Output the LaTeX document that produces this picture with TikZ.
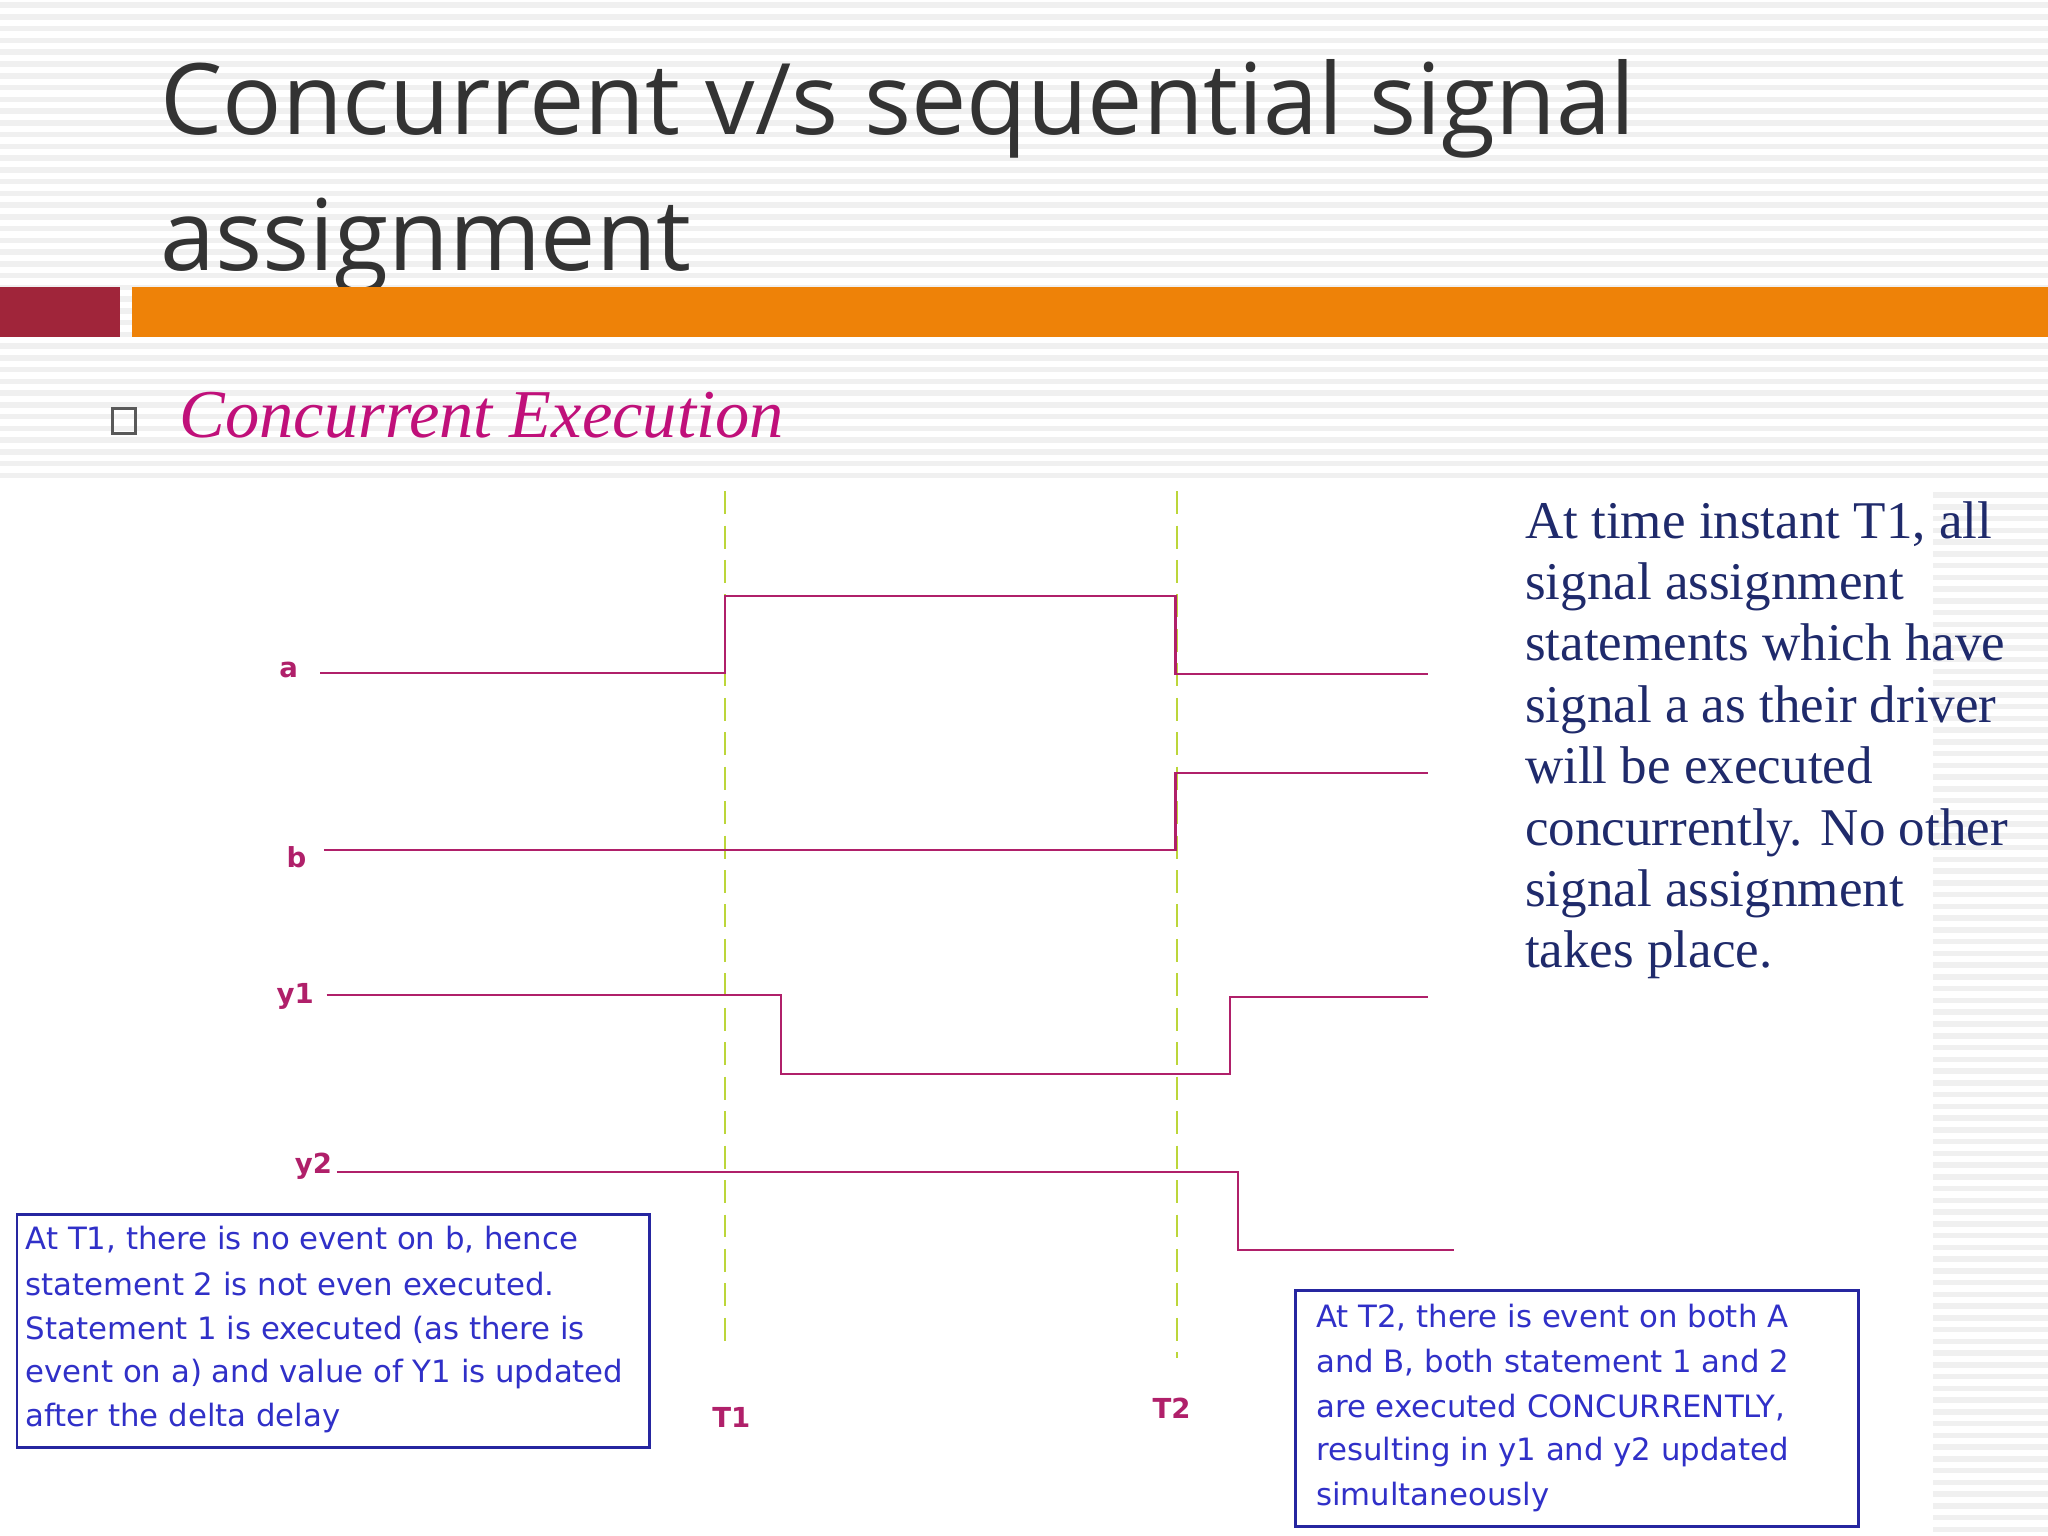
\documentclass[tikz,border=0pt]{standalone}
\usepackage{fontspec}
\setmainfont{Liberation Serif}
\newfontfamily\titlefont{Open Sans}
\newfontfamily\handfont{DejaVu Sans}
\definecolor{wave}{HTML}{B0206A}
\definecolor{dashc}{HTML}{BCD63A}
\definecolor{navy}{HTML}{1F2A6B}
\definecolor{boxblue}{HTML}{3030C8}
\definecolor{barred}{HTML}{A0253A}
\definecolor{barorange}{HTML}{EE8208}
\definecolor{headmag}{HTML}{C0107A}
\begin{document}
\begin{tikzpicture}[x=0.01cm,y=-0.01cm,
  wv/.style={draw=wave,line width=0.45pt},
  dsh/.style={draw=dashc,line width=0.55pt,dash pattern=on 5pt off 2.5pt},
  siglbl/.style={text=wave,font=\handfont\bfseries\fontsize{6pt}{7pt}\selectfont},
  boxtxt/.style={anchor=west,inner sep=0pt,text=boxblue,font=\handfont\fontsize{6.7pt}{7pt}\selectfont},
  rtxt/.style={anchor=base west,inner sep=0pt,text=navy,font=\fontsize{11.55pt}{13pt}\selectfont},
  infobox/.style={draw=boxblue!80!black,line width=0.6pt}]
\useasboundingbox (0,0) rectangle (1568,1176);
\fill[white] (0,0) rectangle (1568,1176);
\foreach \y in {4,13,...,370} \draw[gray!12,line width=1.2pt] (0,\y) -- (1568,\y);
\foreach \y in {379,388,...,1176} \draw[gray!12,line width=1.2pt] (1480,\y) -- (1568,\y);
\fill[white] (0,372) rectangle (1478,1176);
% title
\node[anchor=base west,inner sep=0pt,text=black!80,font=\titlefont\fontsize{21.5pt}{28pt}\selectfont] (t1) at (122,103) {Concurrent v/s sequential signal};
\node[anchor=base west,inner sep=0pt,text=black!80,font=\titlefont\fontsize{21.5pt}{28pt}\selectfont] (t2) at (122,207) {assignment};
\fill[barred] (0,220) rectangle (92,258);
\fill[barorange] (101,220) rectangle (1568,258);
\draw[gray!70!black,line width=0.6pt] (86,313) rectangle (104,332);
\node[anchor=base west,inner sep=0pt,text=headmag,font=\itshape\fontsize{14.9pt}{17pt}\selectfont] (h) at (137,335) {Concurrent Execution};
% right text
\node[rtxt] (r1) at (1167,412) {At time instant T1, all};
\node[rtxt] (r2) at (1167,459) {signal assignment};
\node[rtxt] (r3) at (1167,506) {statements which have};
\node[rtxt] (r4) at (1167,553) {signal a as their driver};
\node[rtxt] (r5) at (1167,600) {will be executed};
\node[rtxt] (r6) at (1167,647) {concurrently. No other};
\node[rtxt] (r7) at (1167,694) {signal assignment};
\node[rtxt] (r8) at (1167,741) {takes place.};
% dashed lines
\coordinate (d1t) at (555,376); \coordinate (d1b) at (555,1035);
\coordinate (d2t) at (901,376); \coordinate (d2b) at (901,1040);
\draw[dsh] (d1t) -- (d1b);
\draw[dsh] (d2t) -- (d2b);
% waveforms
\draw[wv] (245,515) -- (555,515) -- (555,456) -- (900,456) -- (900,516) -- (1093,516);
\draw[wv] (248,651) -- (900,651) -- (900,592) -- (1093,592);
\draw[wv] (250,762) -- (598,762) -- (598,822) -- (942,822) -- (942,763) -- (1093,763);
\draw[wv] (258,897) -- (948,897) -- (948,957) -- (1113,957);
% labels
\node[siglbl] (la) at (221,513) {a};
\node[siglbl] (lb) at (227,656) {b};
\node[siglbl] (ly1) at (226,763) {y1};
\node[siglbl] (ly2) at (240,893) {y2};
\node[siglbl] (lt1) at (560,1085) {T1};
\node[siglbl] (lt2) at (897,1078) {T2};
% boxes
\draw[infobox] (13,930) rectangle (497,1108);
\node[boxtxt] at (19,949) {At T1, there is no event on b, hence};
\node[boxtxt] at (19,983) {statement 2 is not even executed.};
\node[boxtxt] at (19,1018) {Statement 1 is executed (as there is};
\node[boxtxt] at (19,1052) {event on a) and value of Y1 is updated};
\node[boxtxt] at (19,1086) {after the delta delay};
\draw[infobox] (992,988) rectangle (1423,1169);
\node[boxtxt] at (1007,1009) {At T2, there is event on both A};
\node[boxtxt] at (1007,1043) {and B, both statement 1 and 2};
\node[boxtxt] at (1007,1078) {are executed CONCURRENTLY,};
\node[boxtxt] at (1007,1112) {resulting in y1 and y2 updated};
\node[boxtxt] at (1007,1146) {simultaneously};
\end{tikzpicture}
\end{document}
